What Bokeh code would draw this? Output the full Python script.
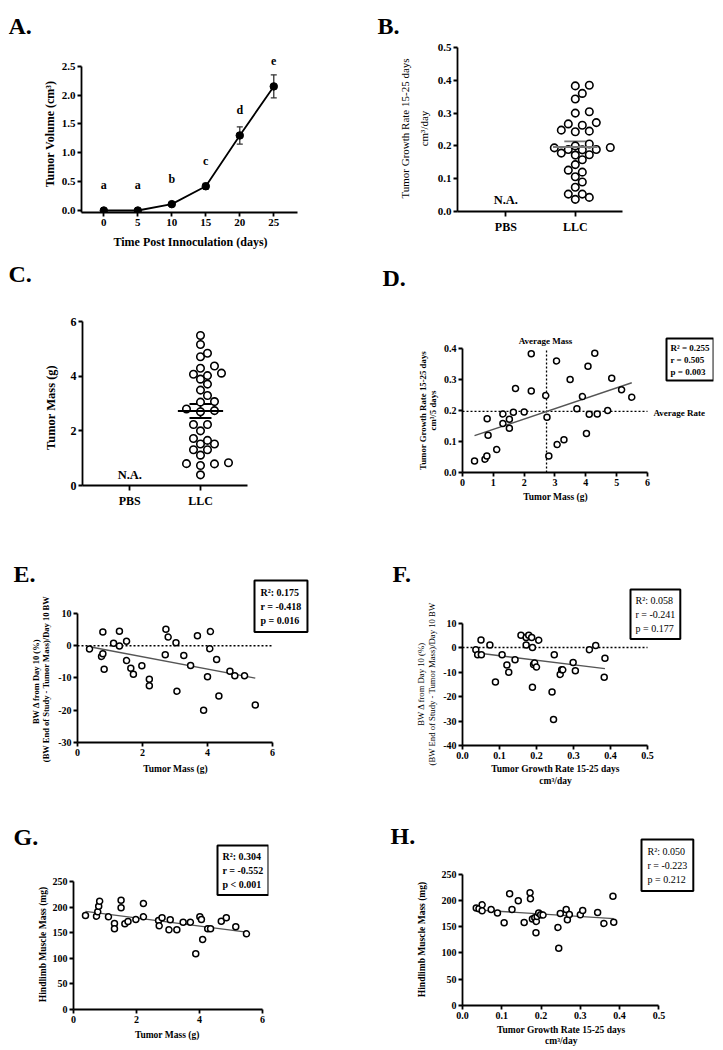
import numpy as np
from bokeh.plotting import figure
from bokeh.models import (Range1d, FixedTicker, Label, Whisker, TeeHead,
                          ColumnDataSource, PrintfTickFormatter, Spacer)
from bokeh.layouts import column, row
from bokeh.embed import file_html
from bokeh.resources import INLINE
from bokeh.core.properties import value

# ---------------- data ----------------
# A: tumor volume over time
days = [0, 5, 10, 15, 20, 25]
volume = [0.0, 0.0, 0.11, 0.42, 1.30, 2.15]
volume_sem = [0.0, 0.0, 0.01, 0.05, 0.15, 0.20]
volume_letters = ["a", "a", "b", "c", "d", "e"]

# B / C groups
groups = ["PBS", "LLC"]

# D (also used for B and C): tumor mass (g) vs growth rate (cm3/day)
tumor_mass = [0.39, 0.73, 0.79, 0.80, 0.83, 1.11, 1.31, 1.31, 1.52, 1.52, 1.65,
              1.72, 2.00, 2.23, 2.23, 2.70, 2.74, 2.80, 3.05, 3.07, 3.29, 3.49,
              3.71, 3.89, 4.02, 4.07, 4.11, 4.29, 4.37, 4.71, 4.84, 5.16, 5.49]
growth_rate = [0.037, 0.043, 0.053, 0.173, 0.120, 0.074, 0.158, 0.189, 0.143, 0.172, 0.194,
               0.271, 0.195, 0.383, 0.263, 0.248, 0.178, 0.053, 0.360, 0.090, 0.106, 0.300,
               0.206, 0.245, 0.126, 0.343, 0.188, 0.385, 0.189, 0.200, 0.304, 0.267, 0.243]

# E: tumor mass vs body-weight change
e_mass = [0.37, 0.74, 0.78, 0.78, 0.82, 1.11, 1.29, 1.29, 1.51, 1.51, 1.64,
          1.72, 1.98, 2.21, 2.21, 2.70, 2.72, 2.79, 3.03, 3.06, 3.27, 3.48,
          3.69, 3.88, 4.00, 4.07, 4.09, 4.28, 4.35, 4.69, 4.84, 5.14, 5.47]
e_bw = [-1.0, -3.3, 4.3, -2.5, -7.3, 0.8, 4.5, -0.1, 1.4, -4.6, -7.0,
        -8.8, -6.2, -10.4, -12.4, -2.8, 5.1, 2.7, 0.9, -14.1, -3.0, -6.1,
        3.1, -20.0, -9.6, -0.9, 4.4, -4.3, -15.6, -7.9, -9.3, -9.3, -18.4]

# F: growth rate vs body-weight change
f_rate = [0.036, 0.041, 0.050, 0.051, 0.074, 0.089, 0.107, 0.120, 0.125, 0.142, 0.158,
          0.172, 0.172, 0.179, 0.187, 0.189, 0.189, 0.192, 0.195, 0.200, 0.206, 0.242,
          0.246, 0.248, 0.264, 0.268, 0.271, 0.299, 0.305, 0.343, 0.360, 0.383, 0.385]
f_bw = [-0.9, -3.0, 3.1, -3.0, 1.0, -14.1, -3.0, -7.1, -10.1, -5.0, 5.0,
        1.0, 4.1, 5.0, 4.1, 0.0, -16.2, -6.9, -6.3, -8.0, 3.0, -18.2,
        -29.4, -3.0, -11.0, -9.1, -9.1, -6.1, -9.5, -0.9, 0.8, -12.1, -4.4]

# G: tumor mass vs hindlimb muscle mass
g_mass = [0.38, 0.73, 0.77, 0.80, 0.83, 1.11, 1.30, 1.30, 1.51, 1.51, 1.63,
          1.73, 1.98, 2.22, 2.22, 2.70, 2.72, 2.81, 3.03, 3.07, 3.28, 3.48,
          3.71, 3.88, 4.01, 4.06, 4.10, 4.26, 4.35, 4.69, 4.85, 5.15, 5.49]
g_muscle = [183.6, 182.3, 190.8, 201.8, 211.6, 181.0, 168.0, 157.6, 213.5, 198.6, 167.3,
            171.9, 175.8, 207.0, 181.0, 173.8, 163.4, 179.0, 155.6, 175.1, 155.6, 170.6,
            170.6, 108.7, 181.0, 175.8, 136.7, 157.6, 157.6, 172.5, 179.0, 161.5, 147.8]

# H: growth rate vs hindlimb muscle mass
h_rate = [0.035, 0.042, 0.050, 0.050, 0.073, 0.089, 0.106, 0.120, 0.126, 0.142, 0.157,
          0.172, 0.173, 0.178, 0.184, 0.187, 0.188, 0.190, 0.194, 0.199, 0.205, 0.243,
          0.245, 0.249, 0.264, 0.267, 0.272, 0.300, 0.306, 0.344, 0.360, 0.383, 0.385]
h_muscle = [185.3, 184.0, 191.6, 180.2, 182.7, 175.8, 157.4, 212.6, 182.7, 199.2, 158.0,
            214.5, 203.1, 164.4, 167.0, 138.3, 159.9, 169.4, 175.8, 172.6, 172.0, 148.5,
            109.1, 175.1, 182.7, 163.1, 173.2, 172.6, 180.8, 177.0, 156.1, 208.1, 158.6]

stats_d = ["R\u00b2 = 0.255", "r = 0.505", "p = 0.003"]
stats_e = ["R\u00b2: 0.175", "r = -0.418", "p = 0.016"]
stats_f = ["R\u00b2: 0.058", "r = -0.241", "p = 0.177"]
stats_g = ["R\u00b2: 0.304", "r = -0.552", "p < 0.001"]
stats_h = ["R\u00b2: 0.050", "r = -0.223", "p = 0.212"]

# ---------------- helpers ----------------
FONT = "Liberation Serif"


class Panel:
    """Figure with its frame placed at given page coordinates."""

    def __init__(self, fig_box, frame_box, xr, yr, tick_size=11):
        fx, fy, fw, fh = fig_box
        L, T, R, B = frame_box
        self.L, self.T, self.R, self.B = L, T, R, B
        p = figure(width=fw, height=fh, x_range=Range1d(*xr), y_range=Range1d(*yr),
                   output_backend="svg", toolbar_location=None,
                   min_border_left=L - fx, min_border_right=fx + fw - R,
                   min_border_top=T - fy, min_border_bottom=fy + fh - B)
        p.xgrid.visible = False
        p.ygrid.visible = False
        p.outline_line_color = None
        p.background_fill_color = "white"
        p.border_fill_color = "white"
        for ax in (p.xaxis[0], p.yaxis[0]):
            ax.axis_line_width = 1.8
            ax.axis_line_color = "black"
            ax.major_tick_line_width = 1.8
            ax.major_tick_line_color = "black"
            ax.major_tick_in = 0
            ax.major_tick_out = 4
            ax.minor_tick_in = 0
            ax.minor_tick_out = 0
            ax.major_label_text_font = FONT
            ax.major_label_text_font_style = "bold"
            ax.major_label_text_font_size = f"{tick_size}px"
            ax.major_label_text_color = "black"
            ax.major_label_standoff = 2
        self.p = p

    def text(self, px, py, s, size, bold=True, align="left", baseline="alphabetic", **kw):
        lab = Label(x=px - self.L, y=self.B - py, x_units="screen", y_units="screen",
                    text=s, text_font=FONT, text_font_size=f"{size}px",
                    text_font_style="bold" if bold else "normal", text_color="black",
                    text_align=align, text_baseline=baseline, **kw)
        self.p.add_layout(lab)
        return lab

    def box(self, px, py, lines, size, bold, pad, lh):
        return self.text(px, py, "\n".join(lines), size, bold=bold, align="left",
                         baseline="top", border_line_color="black", border_line_width=2,
                         background_fill_color="white", padding=pad,
                         text_line_height=lh)


class Canvas:
    """Plain drawing strip; its data coordinates are page pixels (y negated)."""

    def __init__(self, x0, y0, w, h):
        c = figure(width=w, height=h, x_range=Range1d(x0, x0 + w),
                   y_range=Range1d(-(y0 + h), -y0),
                   x_axis_type=None, y_axis_type=None, output_backend="svg",
                   toolbar_location=None, min_border=0, min_border_left=0,
                   min_border_right=0, min_border_top=0, min_border_bottom=0)
        c.outline_line_color = None
        c.background_fill_color = "white"
        c.border_fill_color = "white"
        self.p = c
        # wrapped in its own column so its borders are not aligned with a sibling plot
        self.box = column(c, spacing=0)

    def text(self, px, py, s, size, bold=True, align="center", baseline="middle", angle=0.0):
        self.p.text(x=[px], y=[-py], text=[s], text_font=value(FONT),
                    text_font_size=value(f"{size}px"),
                    text_font_style="bold" if bold else "normal", text_align=align,
                    text_baseline=baseline, angle=angle, text_color="black")

    def vtext(self, px, py, s, size, bold=True):
        self.text(px, py, s, size, bold=bold, angle=np.pi / 2)

    def letter(self, px, py, s):
        self.text(px, py, s, 24, align="left", baseline="alphabetic")


def ticks(ax, vals, fmt=None, bounds=None):
    ax.ticker = FixedTicker(ticks=list(vals))
    if fmt:
        ax.formatter = PrintfTickFormatter(format=fmt)
    if bounds is not None:
        ax.bounds = bounds


def swarm(vals, px_x, px_y, diam, step):
    vals = np.asarray(vals, float)
    order = np.argsort(vals, kind="stable")
    placed = []
    offs = np.zeros(len(vals))
    cands = [0]
    for k in range(1, 30):
        cands += [k, -k]
    for i in order:
        y = vals[i] * px_y
        for c in cands:
            x = c * step
            if all((x - a) ** 2 + (y - b) ** 2 >= diam ** 2 for a, b in placed):
                placed.append((x, y))
                offs[i] = x / px_x
                break
    return offs


def scatter_open(p, x, y, size, lw):
    p.scatter(x, y, marker="circle", size=size, fill_color="white",
              line_color="black", line_width=lw)


def regression(p, x, y, color="#555555"):
    x = np.asarray(x, float)
    y = np.asarray(y, float)
    m, b = np.polyfit(x, y, 1)
    xs = np.array([x.min(), x.max()])
    p.line(xs, m * xs + b, line_color=color, line_width=1.4)


def mean_sem(p, pos, vals, half, cap, color):
    v = np.asarray(vals, float)
    mu = v.mean()
    se = v.std(ddof=1) / np.sqrt(len(v))
    p.segment(x0=[pos - half], y0=[mu], x1=[pos + half], y1=[mu],
              line_color=color, line_width=2)
    src = ColumnDataSource(dict(x=[pos], lo=[mu - se], hi=[mu + se]))
    p.add_layout(Whisker(base="x", lower="lo", upper="hi", source=src, dimension="height",
                         line_color=color, line_width=1.8,
                         upper_head=TeeHead(size=cap, line_color=color, line_width=1.8),
                         lower_head=TeeHead(size=cap, line_color=color, line_width=1.8)))


def category_axis(ax):
    ticks(ax, [0, 1])
    ax.major_label_overrides = {0: groups[0], 1: groups[1]}
    ax.major_label_text_font_size = "12px"
    ax.major_tick_out = 5
    ax.major_label_standoff = 3


# ================= Row 1 =================
# ---- Panel A ----
A = Panel((58, 8, 312, 224), (81, 50, 297, 212), (-3.28, 28.49), (-0.0347, 2.772))
pa = A.p
ticks(pa.xaxis[0], days, "%d")
ticks(pa.yaxis[0], [0, 0.5, 1.0, 1.5, 2.0, 2.5], "%.1f", bounds=(-0.0347, 2.5))
pa.line(days, volume, line_color="black", line_width=1.8)
srcA = ColumnDataSource(dict(x=days,
                             lo=[v - s for v, s in zip(volume, volume_sem)],
                             hi=[v + s for v, s in zip(volume, volume_sem)]))
pa.add_layout(Whisker(base="x", lower="lo", upper="hi", source=srcA, dimension="height",
                      line_color="#333333", line_width=1.3,
                      upper_head=TeeHead(size=6, line_color="#333333", line_width=1.3),
                      lower_head=TeeHead(size=6, line_color="#333333", line_width=1.3)))
pa.scatter(days, volume, marker="circle", size=7.5, fill_color="black", line_color="black")
pa.text(x=days, y=volume, text=volume_letters, text_align="center", text_baseline="middle",
        y_offset=-25, text_font=value(FONT), text_font_style="bold",
        text_font_size=value("12px"), text_color="black")
A_left = Canvas(8, 8, 50, 242)
A_left.letter(8, 25, "A.")
A_left.vtext(49, 133.5, "Tumor Volume (cm\u00b3)", 12)
A_bot = Canvas(58, 232, 312, 18)
A_bot.text(190, 241.7, "Time Post Innoculation (days)", 12)
colA = row(A_left.box, column(pa, A_bot.box))

# ---- Panel B ----
Bp = Panel((432, 8, 283, 242), (457, 47, 622, 211), (-0.695, 1.679), (0, 0.5))
pb = Bp.p
category_axis(pb.xaxis[0])
ticks(pb.yaxis[0], [0, 0.1, 0.2, 0.3, 0.4, 0.5], "%.1f")
offB = swarm(growth_rate, 69.5, 328.0, 7.6, 7.0)
scatter_open(pb, 1 + offB, growth_rate, 7.5, 1.6)
mean_sem(pb, 1, growth_rate, 0.32, 22, "#777777")
Bp.text(505.3, 199.3, "N.A.", 12.5, align="center", baseline="middle")
B_left = Canvas(370, 8, 62, 242)
B_left.letter(377, 25, "B.")
B_left.vtext(404.3, 128, "Tumor Growth Rate 15-25 days", 11, bold=False)
B_left.vtext(423.3, 128, "cm\u00b3/day", 11, bold=False)
colB = row(B_left.box, pb)

# ================= Row 2 =================
# ---- Panel C ----
C = Panel((62, 250, 308, 260), (82, 321, 247, 486), (-0.669, 1.665), (0, 6))
pc = C.p
category_axis(pc.xaxis[0])
ticks(pc.yaxis[0], [0, 2, 4, 6], "%d")
pc.yaxis[0].major_label_text_font_size = "12px"
offC = swarm(tumor_mass, 70.7, 27.5, 7.6, 7.0)
scatter_open(pc, 1 + offC, tumor_mass, 7.5, 1.6)
mean_sem(pc, 1, tumor_mass, 0.32, 22, "black")
C.text(129.3, 475, "N.A.", 12.5, align="center", baseline="middle")
C_left = Canvas(8, 250, 54, 260)
C_left.letter(8, 273, "C.")
C_left.vtext(50, 407, "Tumor Mass (g)", 12.5)
colC = row(C_left.box, pc)

# ---- Panel D ----
D = Panel((440, 250, 275, 240), (462, 300, 713, 472), (0, 8.1407), (0, 0.5548), tick_size=10)
pd_ = D.p
ticks(pd_.xaxis[0], range(0, 7), "%d", bounds=(0, 6))
ticks(pd_.yaxis[0], [0, 0.1, 0.2, 0.3, 0.4], "%.1f", bounds=(0, 0.4))
mass_mean = float(np.mean(tumor_mass))
rate_mean = float(np.mean(growth_rate))
pd_.segment(x0=[mass_mean], y0=[0], x1=[mass_mean], y1=[0.4], line_color="black",
            line_width=1.3, line_dash="2 2")
pd_.segment(x0=[0], y0=[rate_mean], x1=[6], y1=[rate_mean], line_color="black",
            line_width=1.3, line_dash="2 2")
regression(pd_, tumor_mass, growth_rate)
scatter_open(pd_, tumor_mass, growth_rate, 6, 1.5)
D.text(545, 340, "Average Mass", 9, align="center", baseline="middle")
D.text(653, 412.7, "Average Rate", 9, align="left", baseline="middle")
D.box(666, 338, stats_d, 9, True, 4, 1.2)
D_left = Canvas(370, 250, 70, 260)
D_left.letter(382, 277, "D.")
D_left.vtext(422.3, 410, "Tumor Growth Rate 15-25 days", 8.8)
D_left.vtext(432.7, 410, "cm\u00b3/5 days", 8.8)
D_bot = Canvas(440, 490, 275, 20)
D_bot.text(555, 496, "Tumor Mass (g)", 9.5)
colD = row(D_left.box, column(pd_, D_bot.box))

# ================= Row 3 =================
# ---- Panel E ----
E = Panel((55, 510, 315, 252), (77, 560, 310, 742), (0, 7.169), (-30, 26.434), tick_size=10)
pe = E.p
ticks(pe.xaxis[0], [0, 2, 4, 6], "%d", bounds=(0, 6))
ticks(pe.yaxis[0], [-30, -20, -10, 0, 10], "%d", bounds=(-30, 10))
pe.segment(x0=[0], y0=[0], x1=[6], y1=[0], line_color="black", line_width=1.3,
           line_dash="2 2")
regression(pe, e_mass, e_bw)
scatter_open(pe, e_mass, e_bw, 6, 1.5)
E.box(254, 580, stats_e, 10, True, 6, 1.3)
E_left = Canvas(8, 510, 47, 280)
E_left.letter(13, 573, "E.")
E_left.vtext(35, 681, "BW \u0394 from Day 10 (%)", 8.5)
E_left.vtext(45.5, 678.5, "(BW End of Study - Tumor Mass)/Day 10 BW", 8.5)
E_bot = Canvas(55, 762, 315, 28)
E_bot.text(175, 768.3, "Tumor Mass (g)", 9.5)
colE = row(E_left.box, column(pe, E_bot.box))

# ---- Panel F ----
F = Panel((440, 510, 275, 254), (462, 570, 690, 745), (0, 0.6162), (-40, 31.43), tick_size=10)
pf = F.p
ticks(pf.xaxis[0], [0, 0.1, 0.2, 0.3, 0.4, 0.5], "%.1f", bounds=(0, 0.5))
ticks(pf.yaxis[0], [-40, -30, -20, -10, 0, 10], "%d", bounds=(-40, 10))
pf.segment(x0=[0], y0=[0], x1=[0.5], y1=[0], line_color="black", line_width=1.3,
           line_dash="2 2")
regression(pf, f_rate, f_bw)
scatter_open(pf, f_rate, f_bw, 6, 1.5)
F.box(630, 589, stats_f, 10, False, 5, 1.3)
F_left = Canvas(370, 510, 70, 280)
F_left.letter(392, 573, "F.")
F_left.vtext(420, 683.5, "BW \u0394 from Day 10 (%)", 8.7, bold=False)
F_left.vtext(431, 683.5, "(BW End of Study - Tumor Mass)/Day 10 BW", 8.7, bold=False)
F_bot = Canvas(440, 764, 275, 26)
F_bot.text(555, 768.5, "Tumor Growth Rate 15-25 days", 9.5)
F_bot.text(555, 780.7, "cm\u00b3/day", 9.5)
colF = row(F_left.box, column(pf, F_bot.box))

# ================= Row 4 =================
# ---- Panel G ----
G = Panel((49, 790, 321, 238), (71, 830, 268, 1009), (0, 6.189), (0, 349.6), tick_size=10)
pg = G.p
ticks(pg.xaxis[0], [0, 2, 4, 6], "%d", bounds=(0, 6))
ticks(pg.yaxis[0], [0, 50, 100, 150, 200, 250], "%d", bounds=(0, 250))
regression(pg, g_mass, g_muscle)
scatter_open(pg, g_mass, g_muscle, 6, 1.5)
G.box(215, 845, stats_g, 10, True, 5, 1.3)
G_left = Canvas(8, 790, 41, 252)
G_left.letter(13, 836, "G.")
G_left.vtext(42.7, 944, "Hindlimb Muscle Mass (mg)", 9.5)
G_bot = Canvas(49, 1028, 321, 14)
G_bot.text(166.7, 1034.3, "Tumor Mass (g)", 9.5)
colG = row(G_left.box, column(pg, G_bot.box))

# ---- Panel H ----
H = Panel((436, 790, 279, 234), (462, 820, 700, 1005), (0, 0.6059), (0, 352.0), tick_size=10)
ph = H.p
ticks(ph.xaxis[0], [0, 0.1, 0.2, 0.3, 0.4, 0.5], "%.1f", bounds=(0, 0.5))
ticks(ph.yaxis[0], [0, 50, 100, 150, 200, 250], "%d", bounds=(0, 250))
regression(ph, h_rate, h_muscle)
scatter_open(ph, h_rate, h_muscle, 6, 1.5)
H.box(641, 839, stats_h, 10, False, 6, 1.3)
H_left = Canvas(370, 790, 66, 256)
H_left.letter(390, 835, "H.")
H_left.vtext(421.7, 939, "Hindlimb Muscle Mass (mg)", 9.5)
H_bot = Canvas(436, 1024, 279, 22)
H_bot.text(560.7, 1029, "Tumor Growth Rate 15-25 days", 9.5)
H_bot.text(560.7, 1040, "cm\u00b3/day", 9.5)
colH = row(H_left.box, column(ph, H_bot.box))

# the page body has no margin of its own here, so add the 8 px offset explicitly
grid = column(row(colA, colB), row(colC, colD), row(colE, colF), row(colG, colH))
layout = column(Spacer(width=715, height=8), row(Spacer(width=8, height=1), grid))
open("out.html", "w").write(file_html(layout, INLINE))
